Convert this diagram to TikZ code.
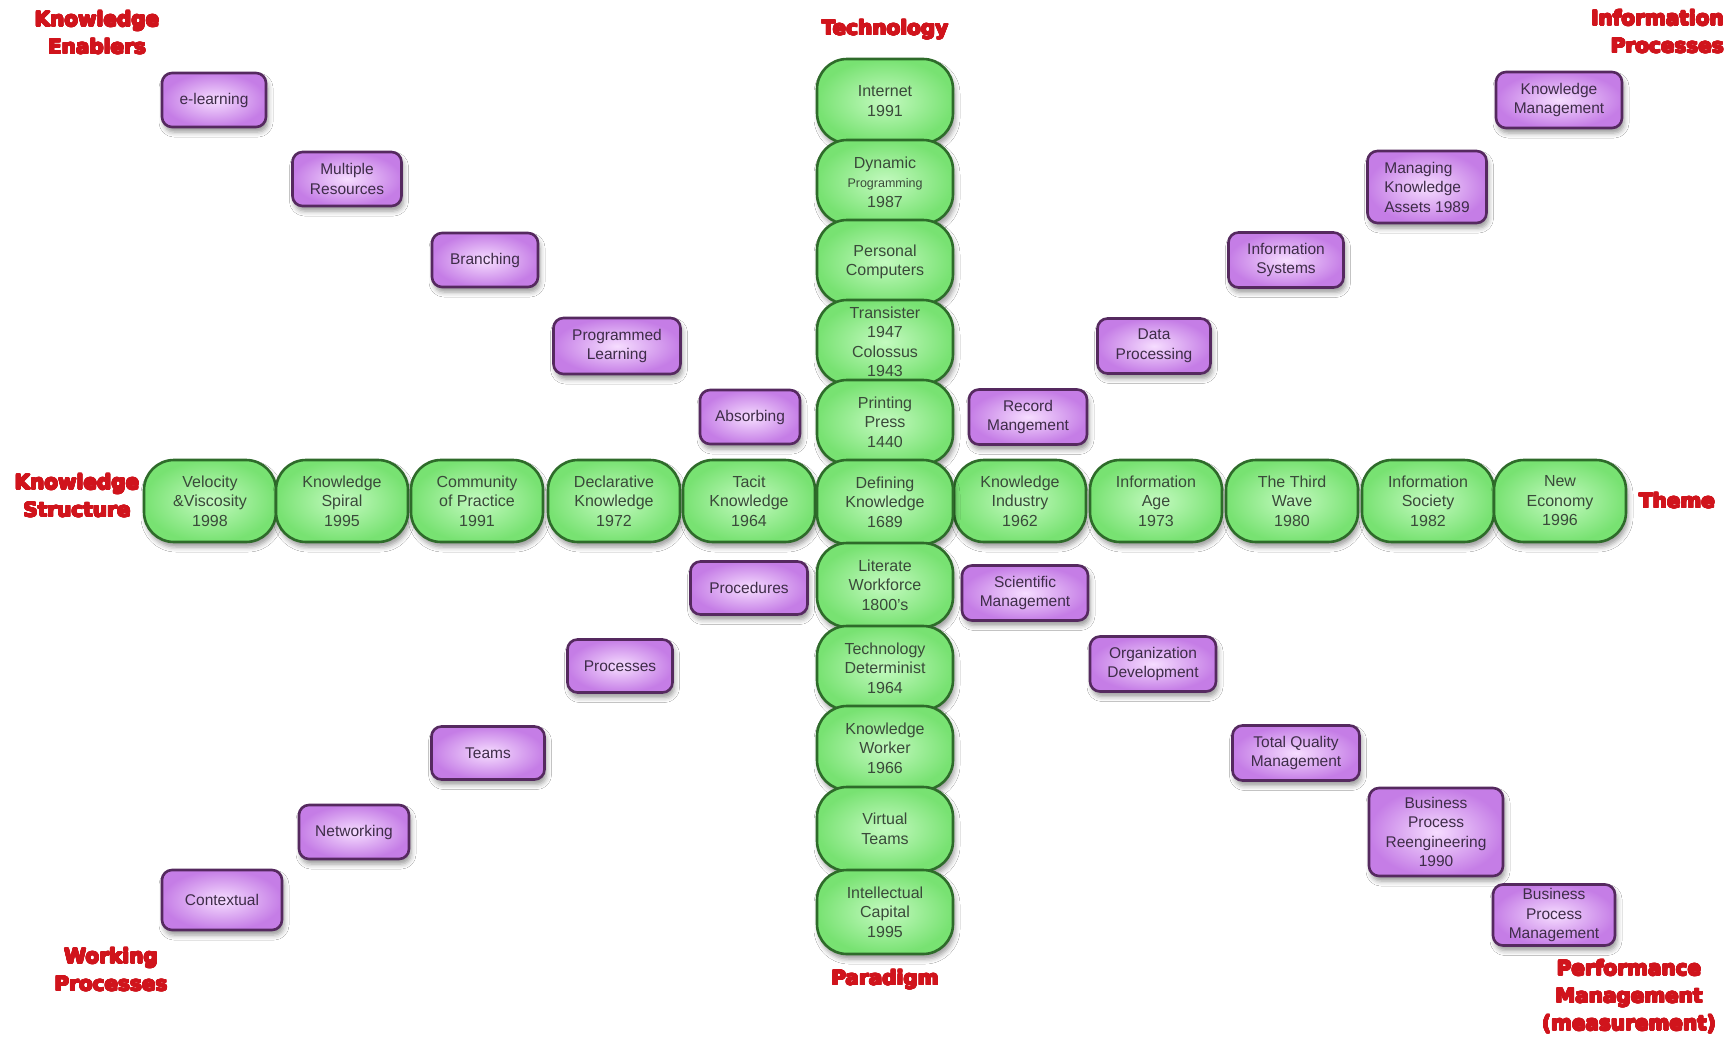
\documentclass[tikz,border=0pt]{standalone}
\usepackage{fontspec}
\setmainfont{Liberation Sans}
\newfontfamily\headfont{DejaVu Sans}
\usepackage{contour}
\contourlength{0.7pt}
\contournumber{16}
\usetikzlibrary{shadows.blur}

\definecolor{gline}{HTML}{2E6B2A}
\definecolor{ginner}{HTML}{C4FAC0}
\definecolor{gouter}{HTML}{78E272}
\definecolor{gtext}{HTML}{3A4A3A}
\definecolor{pline}{HTML}{55295F}
\definecolor{pinner}{HTML}{F6DDFF}
\definecolor{pouter}{HTML}{C57DE6}
\definecolor{ptext}{HTML}{3E2C48}
\definecolor{headred}{HTML}{D0141C}

% heavy heading line
\newcommand{\hv}[1]{\contour{headred}{#1}}

\begin{document}
\begin{tikzpicture}[x=1pt,y=-1pt,
  shadowed/.style={blur shadow={shadow xshift=2pt,shadow yshift=-5pt,
      shadow blur radius=5pt,shadow opacity=40}},
  gpill/.style={draw=gline,line width=2.6pt,rounded corners=30pt,
      inner color=ginner,outer color=gouter,
      minimum width=132pt,minimum height=82pt,inner sep=1pt,
      align=center,text=gtext,font=\fontsize{16}{19.5}\selectfont,shadowed},
  gcol/.style={gpill,minimum width=136pt,minimum height=84pt},
  pbox/.style={draw=pline,line width=2.6pt,rounded corners=10pt,
      inner color=pinner,outer color=pouter,inner sep=1pt,
      align=center,text=ptext,font=\fontsize{15.5}{19.5}\selectfont,shadowed},
  lbl/.style={text=headred,align=center,inner sep=0pt,
      font=\headfont\bfseries\fontsize{20}{27.5}\selectfont}
]
\useasboundingbox (0,0) rectangle (1728,1036);
\fill[white] (0,0) rectangle (1728,1036);

% ---- horizontal row: Theme / Knowledge Structure ----
\node[gpill] (gVelocity)    at (210,501)  {Velocity\\\&Viscosity\\1998};
\node[gpill] (gSpiral)      at (342,501)  {Knowledge\\Spiral\\1995};
\node[gpill] (gCommunity)   at (477,501)  {Community\\of Practice\\1991};
\node[gpill] (gDeclarative) at (614,501)  {Declarative\\Knowledge\\1972};
\node[gpill] (gTacit)       at (749,501)  {Tacit\\Knowledge\\1964};
\node[gpill] (gIndustry)    at (1020,501) {Knowledge\\Industry\\1962};
\node[gpill] (gInfoAge)     at (1156,501) {Information\\Age\\1973};
\node[gpill] (gThirdWave)   at (1292,501) {The Third\\Wave\\1980};
\node[gpill] (gInfoSociety) at (1428,501) {Information\\Society\\1982};
\node[gpill] (gNewEconomy)  at (1560,501) {New\\Economy\\1996};

% ---- vertical column: Technology / Paradigm ----
\node[gcol] (gInternet)     at (885,101) {Internet\\1991};
\node[gcol] (gDynamic)      at (885,182) {Dynamic\\{\fontsize{12.5}{15}\selectfont Programming}\\1987};
\node[gcol] (gPersonal)     at (885,262) {Personal\\Computers};
\node[gcol] (gTransister)   at (885,342) {Transister\\1947\\Colossus\\1943};
\node[gcol] (gPrinting)     at (885,422) {Printing\\Press\\1440};
\node[gcol] (gDefining)     at (885,502) {Defining\\Knowledge\\1689};
\node[gcol] (gLiterate)     at (885,585) {Literate\\Workforce\\1800's};
\node[gcol] (gTechDet)      at (885,668) {Technology\\Determinist\\1964};
\node[gcol] (gKWorker)      at (885,748) {Knowledge\\Worker\\1966};
\node[gcol] (gVirtual)      at (885,829) {Virtual\\Teams};
\node[gcol] (gIntellectual) at (885,912) {Intellectual\\Capital\\1995};

% ---- upper-left diagonal: Knowledge Enablers ----
\node[pbox,minimum width=104pt,minimum height=54pt] (pElearning)  at (214,100) {e-learning};
\node[pbox,minimum width=109pt,minimum height=54pt] (pMultiple)   at (347,179) {Multiple\\Resources};
\node[pbox,minimum width=106pt,minimum height=54pt] (pBranching)  at (485,260) {Branching};
\node[pbox,minimum width=127pt,minimum height=56pt] (pProgrammed) at (617,346) {Programmed\\Learning};
\node[pbox,minimum width=100pt,minimum height=54pt] (pAbsorbing)  at (750,417) {Absorbing};

% ---- lower-left diagonal: Working Processes ----
\node[pbox,minimum width=117pt,minimum height=53pt] (pProcedures) at (749,588) {Procedures};
\node[pbox,minimum width=105pt,minimum height=53pt] (pProcesses)  at (620,666) {Processes};
\node[pbox,minimum width=113pt,minimum height=53pt] (pTeams)      at (488,753) {Teams};
\node[pbox,minimum width=110pt,minimum height=54pt] (pNetworking) at (354,832) {Networking};
\node[pbox,minimum width=120pt,minimum height=60pt] (pContextual) at (222,900) {Contextual};

% ---- upper-right diagonal: Information Processes ----
\node[pbox,minimum width=118pt,minimum height=55pt] (pRecord)     at (1028,417) {Record\\Mangement};
\node[pbox,minimum width=113pt,minimum height=55pt] (pData)       at (1154,346) {Data\\Processing};
\node[pbox,minimum width=115pt,minimum height=55pt] (pInfoSys)    at (1286,260) {Information\\Systems};
\node[pbox,minimum width=119pt,minimum height=72pt,align=left] (pAssets) at (1427,187) {Managing\\Knowledge\\Assets 1989};
\node[pbox,minimum width=126pt,minimum height=56pt] (pKM)         at (1559,100) {Knowledge\\Management};

% ---- lower-right diagonal: Performance Management ----
\node[pbox,minimum width=126pt,minimum height=55pt] (pScientific) at (1025,593) {Scientific\\Management};
\node[pbox,minimum width=126pt,minimum height=55pt] (pOrgDev)     at (1153,664) {Organization\\Development};
\node[pbox,minimum width=127pt,minimum height=55pt] (pTQM)        at (1296,753) {Total Quality\\Management};
\node[pbox,minimum width=134pt,minimum height=88pt] (pBPR)        at (1436,832) {Business\\Process\\Reengineering\\1990};
\node[pbox,minimum width=122pt,minimum height=61pt] (pBPM)        at (1554,915) {Business\\Process\\Management};

% ---- axis headings ----
\node[lbl] (hEnablers)   at (97,33)    {\hv{Knowledge}\\\hv{Enablers}};
\node[lbl] (hTechnology) at (885,30)   {\hv{Technology}};
\node[lbl,align=right,anchor=east] (hInfoProc) at (1724,32) {\hv{Information}\\\hv{Processes}};
\node[lbl] (hStructure)  at (77,496)   {\hv{Knowledge}\\\hv{Structure}};
\node[lbl] (hTheme)      at (1677,501) {\hv{Theme}};
\node[lbl] (hWorking)    at (111,970)  {\hv{Working}\\\hv{Processes}};
\node[lbl] (hParadigm)   at (885,980)  {\hv{Paradigm}};
\node[lbl] (hPerformance) at (1629,997) {\hv{Performance}\\\hv{Management}\\\hv{(measurement)}};
\end{tikzpicture}
\end{document}
